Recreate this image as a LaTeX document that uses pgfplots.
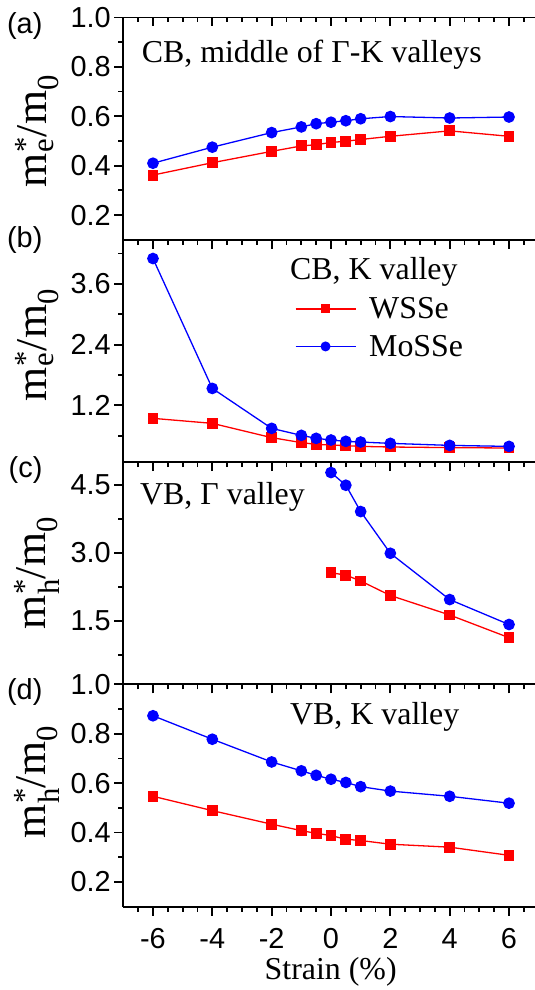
\documentclass[border=0pt]{standalone}
\usepackage{fontspec}
\setmainfont{Liberation Serif}
\setsansfont{Liberation Sans}
\newfontfamily\timesface{Liberation Serif}
\newfontfamily\arialface{Liberation Sans}
\usepackage{amsmath}
\usepackage{pgfplots}
\usepackage{pgfplotstable}
\pgfplotsset{compat=1.18}

% effective masses vs. strain
\pgfplotstableread{
x     w      m
-6    0.362  0.410
-4    0.412  0.475
-2    0.458  0.534
-1    0.480  0.557
-0.5  0.485  0.570
0     0.494  0.576
0.5   0.499  0.582
1     0.506  0.590
2     0.519  0.599
4     0.541  0.593
6     0.519  0.597
}\cbmid
\pgfplotstableread{
x     w      m
-6    0.944  4.100
-4    0.845  1.535
-2    0.563  0.746
-1    0.465  0.608
-0.5  0.430  0.549
0     0.417  0.516
0.5   0.405  0.490
1     0.390  0.476
2     0.378  0.450
4     0.366  0.410
6     0.358  0.390
}\cbK
\pgfplotstableread{
x     w      m
0     2.56   4.77
0.5   2.51   4.49
1     2.38   3.91
2     2.06   2.99
4     1.63   1.97
6     1.13   1.42
}\vbG
\pgfplotstableread{
x     w      m
-6    0.547  0.873
-4    0.489  0.778
-2    0.434  0.686
-1    0.408  0.650
-0.5  0.397  0.632
0     0.388  0.616
0.5   0.373  0.603
1     0.368  0.586
2     0.353  0.568
4     0.341  0.547
6     0.308  0.519
}\vbK

\newcommand{\ticksize}{\arialface\fontsize{29}{34}\selectfont}
\newcommand{\annsize}{\timesface\fontsize{32}{38}\selectfont}
\newcommand{\labsize}{\timesface\fontsize{44}{52}\selectfont}

\pgfplotsset{
  panel/.style={
    scale only axis, width=415.4bp, height=222.3bp,
    xmin=-7, xmax=7,
    axis x line*=box, axis y line*=left,
    xtick={-6,-4,...,6}, minor xtick={-6.5,-6,...,6.5},
    xticklabels={},
    xtick pos=lower, xtick align=outside,
    ytick pos=left, ytick align=outside,
    major tick length=9bp, minor tick length=5bp,
    axis line style={line width=1.8bp},
    every tick/.append style={line width=1.8bp, black},
    tick label style={font=\ticksize},
    clip=false,
  },
  wsse/.style={red, line width=1.3bp, mark=square*, mark size=4.8bp},
  mosse/.style={blue, line width=1.3bp, mark=*, mark size=5.2bp},
}

\begin{document}
\begin{tikzpicture}
% (a) CB, middle of Gamma-K
\begin{axis}[panel, at={(0,666.9bp)}, anchor=south west,
  ymin=0.1, ymax=1.0, ytick={0.2,0.4,0.6,0.8,1.0},
  yticklabels={0.2,0.4,0.6,0.8,1.0}, minor ytick={0.3,0.5,0.7,0.9}]
  \addplot[wsse] table[x=x,y=w] {\cbmid};
  \addplot[mosse] table[x=x,y=m] {\cbmid};
\end{axis}
% top ticks of (a), pointing inwards
\begin{axis}[scale only axis, width=415.4bp, height=222.3bp,
  at={(0,666.9bp)}, anchor=south west,
  xmin=-7, xmax=7, ymin=0, ymax=1,
  axis x line*=top, hide y axis,
  xtick={-6,-4,...,6}, minor xtick={-6.5,-6,...,6.5}, xticklabels={},
  xtick align=inside, major tick length=9bp, minor tick length=5bp,
  axis line style={line width=1.8bp},
  every tick/.append style={line width=1.8bp, black}]
\end{axis}
% (b) CB, K valley
\begin{axis}[panel, at={(0,444.6bp)}, anchor=south west,
  ymin=0.08, ymax=4.47, ytick={1.2,2.4,3.6},
  yticklabels={1.2,2.4,3.6}, minor ytick={0.6,1.8,3.0,4.2},
  legend style={at={(axis description cs:0.4054,0.759)}, anchor=north west,
    draw=none, fill=none, font=\annsize, row sep=11bp, column sep=11bp,
    nodes={font=\annsize}},
  legend cell align=left,
  legend image code/.code={\draw[mark repeat=2,mark phase=2,every mark/.append style={scale=0.83}]
    plot coordinates {(0bp,0bp) (30bp,0bp) (60bp,0bp)};}]
  \addplot[wsse] table[x=x,y=w] {\cbK};
  \addplot[mosse] table[x=x,y=m] {\cbK};
  \legend{WSSe, MoSSe}
\end{axis}
% (c) VB, Gamma valley
\begin{axis}[panel, at={(0,222.3bp)}, anchor=south west,
  ymin=0.1, ymax=5.0, ytick={1.5,3.0,4.5},
  yticklabels={1.5,3.0,4.5}, minor ytick={0.75,2.25,3.75}]
  \addplot[wsse] table[x=x,y=w] {\vbG};
  \addplot[mosse] table[x=x,y=m] {\vbG};
\end{axis}
% (d) VB, K valley
\begin{axis}[panel, at={(0,0bp)}, anchor=south west,
  ymin=0.1, ymax=1.0, ytick={0.2,0.4,0.6,0.8,1.0},
  yticklabels={0.2,0.4,0.6,0.8,1.0}, minor ytick={0.3,0.5,0.7,0.9},
  xticklabels={-6,-4,-2,0,2,4,6},
  xticklabel style={yshift=-9bp}]
  \addplot[wsse] table[x=x,y=w] {\vbK};
  \addplot[mosse] table[x=x,y=m] {\vbK};
\end{axis}

% panel titles
\node[anchor=base west, font=\annsize, inner sep=0] at (18.3bp,843.7bp) {CB, middle of Γ-K valleys};
\node[anchor=base west, font=\annsize, inner sep=0] at (166.7bp,626.7bp) {CB, K valley};
\node[anchor=base west, font=\annsize, inner sep=0] at (16.7bp,401.7bp) {VB, Γ valley};
\node[anchor=base west, font=\annsize, inner sep=0] at (166.7bp,182.3bp) {VB, K valley};

% panel letters
\node[anchor=base east, font=\ticksize, inner sep=0] at (-80.7bp,873.6bp) {(a)};
\node[anchor=base east, font=\ticksize, inner sep=0] at (-80.7bp,659.1bp) {(b)};
\node[anchor=base east, font=\ticksize, inner sep=0] at (-80.7bp,428.7bp) {(c)};
\node[anchor=base east, font=\ticksize, inner sep=0] at (-80.7bp,207.2bp) {(d)};

% y labels
\node[rotate=90, font=\labsize, inner sep=0] at (-86.3bp,775.7bp) {$\text{m}^{\text{*}}_{\text{e}}\text{/m}_{\text{0}}$};
\node[rotate=90, font=\labsize, inner sep=0] at (-86.3bp,561.7bp) {$\text{m}^{\text{*}}_{\text{e}}\text{/m}_{\text{0}}$};
\node[rotate=90, font=\labsize, inner sep=0] at (-86.3bp,333.7bp) {$\text{m}^{\text{*}}_{\text{h}}\text{/m}_{\text{0}}$};
\node[rotate=90, font=\labsize, inner sep=0] at (-86.3bp,124.7bp) {$\text{m}^{\text{*}}_{\text{h}}\text{/m}_{\text{0}}$};

% x label
\node[anchor=base, font=\annsize, inner sep=0] at (207.4bp,-72.3bp) {Strain (\%)};

\pgfresetboundingbox
\path (-123.3bp,-83.3bp) rectangle (411.7bp,906.7bp);
\end{tikzpicture}
\end{document}
